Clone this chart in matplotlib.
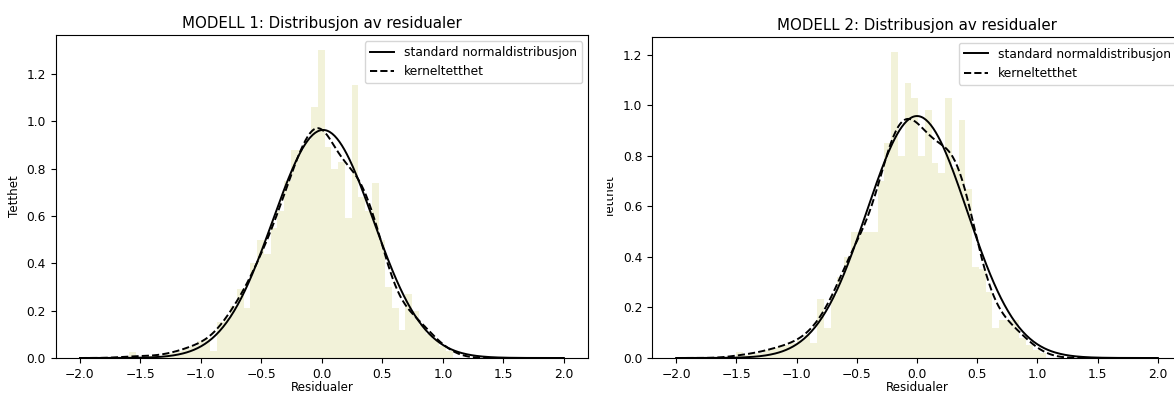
import numpy as np
import matplotlib.pyplot as plt
from matplotlib.transforms import Bbox, TransformedBbox

# --- data ---
# histogram bins: first edge + constant width, heights are densities
m1_bin_start = -1.593
m1_bin_width = 0.0557
m1_heights = [0.025, 0.005, 0.0, 0.01, 0.01, 0.015, 0.02, 0.03, 0.04, 0.05,
              0.07, 0.08, 0.03, 0.15, 0.17, 0.22, 0.29, 0.21, 0.40, 0.50,
              0.44, 0.55, 0.62, 0.75, 0.88, 0.88, 0.92, 1.06, 1.30, 0.89,
              0.80, 0.83, 0.59, 1.155, 0.68, 0.62, 0.74, 0.50, 0.30, 0.21,
              0.12, 0.27, 0.20, 0.14, 0.10, 0.08, 0.05, 0.03]

m2_bin_start = -1.558
m2_bin_width = 0.056
m2_heights = [0.0, 0.025, 0.01, 0.015, 0.02, 0.03, 0.04, 0.045, 0.05, 0.06,
              0.07, 0.09, 0.06, 0.235, 0.12, 0.25, 0.32, 0.40, 0.50, 0.50,
              0.50, 0.50, 0.70, 0.85, 1.21, 0.80, 1.088, 1.03, 0.80, 0.98,
              0.77, 0.73, 1.03, 0.75, 0.94, 0.67, 0.36, 0.35, 0.26, 0.12,
              0.15, 0.15, 0.15, 0.08, 0.05, 0.03, 0.02]

# fitted normal (mean, std) for each model
m1_mu, m1_sigma = 0.01, 0.414
m2_mu, m2_sigma = 0.0, 0.417

kde_bw = 0.12


def draw(ax, start, width, heights, mu, sigma, title):
    heights = np.array(heights)
    edges = start + width * np.arange(len(heights) + 1)
    centers = (edges[:-1] + edges[1:]) / 2
    ax.hist(centers, bins=edges, weights=heights, color='#f2f2d9')

    x = np.linspace(-2, 2, 400)
    normal = np.exp(-(x - mu) ** 2 / (2 * sigma ** 2)) / (sigma * np.sqrt(2 * np.pi))
    ax.plot(x, normal, color='black', lw=1.4, label='standard normaldistribusjon')

    # kernel density estimate built from the histogram
    w = heights * width
    w = w / w.sum()
    kde = (w[None, :] * np.exp(-(x[:, None] - centers[None, :]) ** 2 / (2 * kde_bw ** 2))).sum(axis=1)
    kde = kde / (kde_bw * np.sqrt(2 * np.pi))
    ax.plot(x, kde, color='black', lw=1.4, ls='--', label='kerneltetthet')

    ax.set_title(title, fontsize=10.8, pad=5)
    ax.set_xlabel('Residualer', fontsize=8.6, labelpad=0)
    ax.tick_params(labelsize=8.8)
    ax.legend(loc='upper right', fontsize=8.8)


fig = plt.figure(figsize=(11.74, 3.94), dpi=100)
ax1 = fig.add_axes([0.0475, 0.0914, 0.4534, 0.8198])
ax2 = fig.add_axes([0.5554, 0.0914, 0.4514, 0.8155])

draw(ax1, m1_bin_start, m1_bin_width, m1_heights, m1_mu, m1_sigma,
     'MODELL 1: Distribusjon av residualer')
draw(ax2, m2_bin_start, m2_bin_width, m2_heights, m2_mu, m2_sigma,
     'MODELL 2: Distribusjon av residualer')

ax1.set_ylabel('Tetthet', fontsize=8.6)
lab = ax2.set_ylabel('Tetthet', fontsize=8.6)
# the second panel's label is half hidden in the original screenshot
lab.set_clip_on(True)
lab.set_clip_box(TransformedBbox(Bbox([[607 / 1174, 0], [1, 1]]), fig.transFigure))

fig.savefig('out.png', dpi=100)
